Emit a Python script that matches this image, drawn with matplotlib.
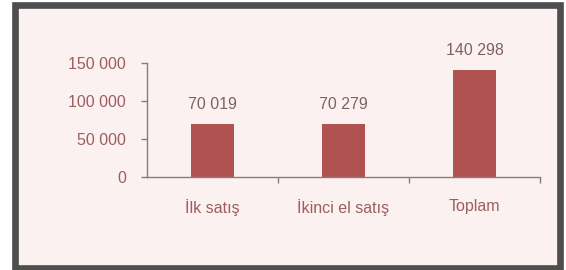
import matplotlib
matplotlib.use("Agg")
import matplotlib.pyplot as plt
from matplotlib.patches import Rectangle
from matplotlib.ticker import FixedLocator

categories = ["İlk satış", "İkinci el satış", "Toplam"]
values = [70019, 70279, 140298]
value_labels = ["70 019", "70 279", "140 298"]
yticks = [0, 50000, 100000, 150000]
ytick_labels = ["0", "50 000", "100 000", "150 000"]

plt.rcParams['font.family'] = ['Liberation Sans', 'DejaVu Sans']

W, H = 566, 270
fig = plt.figure(figsize=(W / 100, H / 100), dpi=100)
fig.patch.set_facecolor('white')

# outer frame
frame = Rectangle((15 / W, 2.5 / H), (560 - 15) / W, (265.5 - 2.5) / H,
                  transform=fig.transFigure, facecolor='#fcf1f1',
                  edgecolor='#4e4e4e', linewidth=4.8, zorder=-5)
fig.patches.append(frame)

ax = fig.add_axes([147 / W, (270 - 177) / H, (540 - 147) / W, (177 - 63) / H])
ax.set_zorder(1)
ax.set_facecolor('none')

bar_color = '#b0524f'
text_color = '#7e6262'
tick_color = '#9c5e5e'
axis_color = '#8e7a7a'

x = list(range(len(categories)))
ax.bar(x, values, width=0.33, color=bar_color, zorder=2)

for xi, v, lab in zip(x, values, value_labels):
    ax.annotate(lab, (xi, v), xytext=(0, 14), textcoords='offset points',
                ha='center', va='center', fontsize=11.5, color=text_color,
                annotation_clip=False)

ax.set_xlim(-0.5, 2.5)
ax.set_ylim(0, 150000)
ax.set_yticks(yticks)
ax.set_yticklabels(ytick_labels)
ax.set_xticks(x)
ax.set_xticklabels(categories)
ax.xaxis.set_minor_locator(FixedLocator([0.5, 1.5, 2.5]))

for s in ['top', 'right']:
    ax.spines[s].set_visible(False)
for s in ['left', 'bottom']:
    ax.spines[s].set_color(axis_color)
    ax.spines[s].set_linewidth(1.0)

ax.tick_params(axis='y', direction='out', length=4, width=1, color=axis_color,
               labelsize=11.5, labelcolor=tick_color, pad=11)
ax.tick_params(axis='x', which='major', length=0, labelsize=11.5,
               labelcolor=tick_color, pad=16)
ax.tick_params(axis='x', which='minor', direction='out', length=4, width=1,
               color=axis_color)

fig.savefig('out.png', dpi=100)
